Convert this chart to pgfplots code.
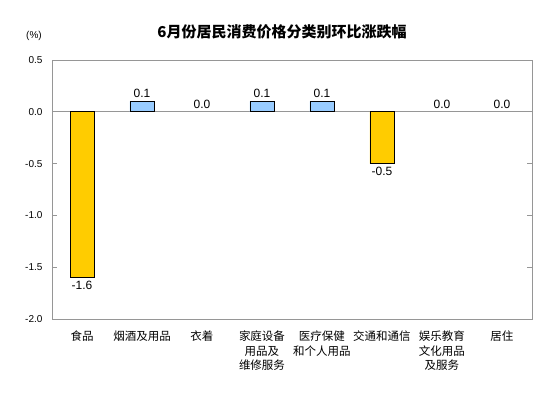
\documentclass[border=0pt]{standalone}
\usepackage{pgfplots}
\pgfplotsset{compat=1.18}
\usepackage{fontspec}
\setmainfont{Liberation Sans}
\newfontfamily\cjk{Noto Sans CJK SC}
\definecolor{baryellow}{RGB}{255,204,0}
\definecolor{barblue}{RGB}{153,204,255}
\definecolor{axgray}{RGB}{150,150,150}
\begin{document}
\begin{tikzpicture}
\path[use as bounding box] (0,0) rectangle (554pt,398pt);
\begin{axis}[
  at={(52pt,79pt)}, anchor=south west,
  scale only axis, width=480pt, height=259pt,
  xmin=-0.5, xmax=7.5, ymin=-2, ymax=0.5,
  ytick={-2,-1.5,-1,-0.5,0,0.5},
  /pgf/number format/assume math mode=true,
  yticklabel={\pgfmathprintnumber[fixed,fixed zerofill,precision=1]{\tick}},
  yticklabel style={font=\fontsize{10}{10}\selectfont, xshift=-6pt},
  xtick={0,1,2,3,4,5,6,7},
  xticklabels={食品,烟酒及用品,衣着,家庭设备\\用品及\\维修服务,医疗保健\\和个人用品,交通和通信,娱乐教育\\文化用品\\及服务,居住},
  xticklabel style={font=\cjk\fontsize{11.5}{14.5}\selectfont, align=center, anchor=north, yshift=-4pt},
  x tick style={draw=none},
  y tick style={axgray, line width=0.8pt},
  tick align=inside, major tick length=4.5pt,
  axis line style={axgray, line width=0.8pt},
  extra y ticks={0}, extra y tick labels={},
  extra y tick style={grid=major, major grid style={axgray, line width=0.8pt}},
  ybar, bar width=24pt, bar shift=0pt,
  nodes near coords={\pgfmathprintnumber[fixed,fixed zerofill,precision=1]{\pgfplotspointmeta}},
  nodes near coords style={font=\fontsize{12}{12}\selectfont},
  clip=false,
]
\addplot[fill=baryellow, draw=black, line width=0.8pt] coordinates {(0,-1.6) (5,-0.5)};
\addplot[fill=barblue, draw=black, line width=0.8pt] coordinates {(1,0.1) (3,0.1) (4,0.1)};
\addplot[draw=none, fill=none] coordinates {(2,0.0) (6,0.0) (7,0.0)};
\end{axis}
\node[font=\cjk\bfseries\fontsize{15}{15}\selectfont] at (282pt,366pt) {6月份居民消费价格分类别环比涨跌幅};
\node[font=\fontsize{10}{10}\selectfont] at (34pt,362pt) {(\%)};
\end{tikzpicture}
\end{document}
